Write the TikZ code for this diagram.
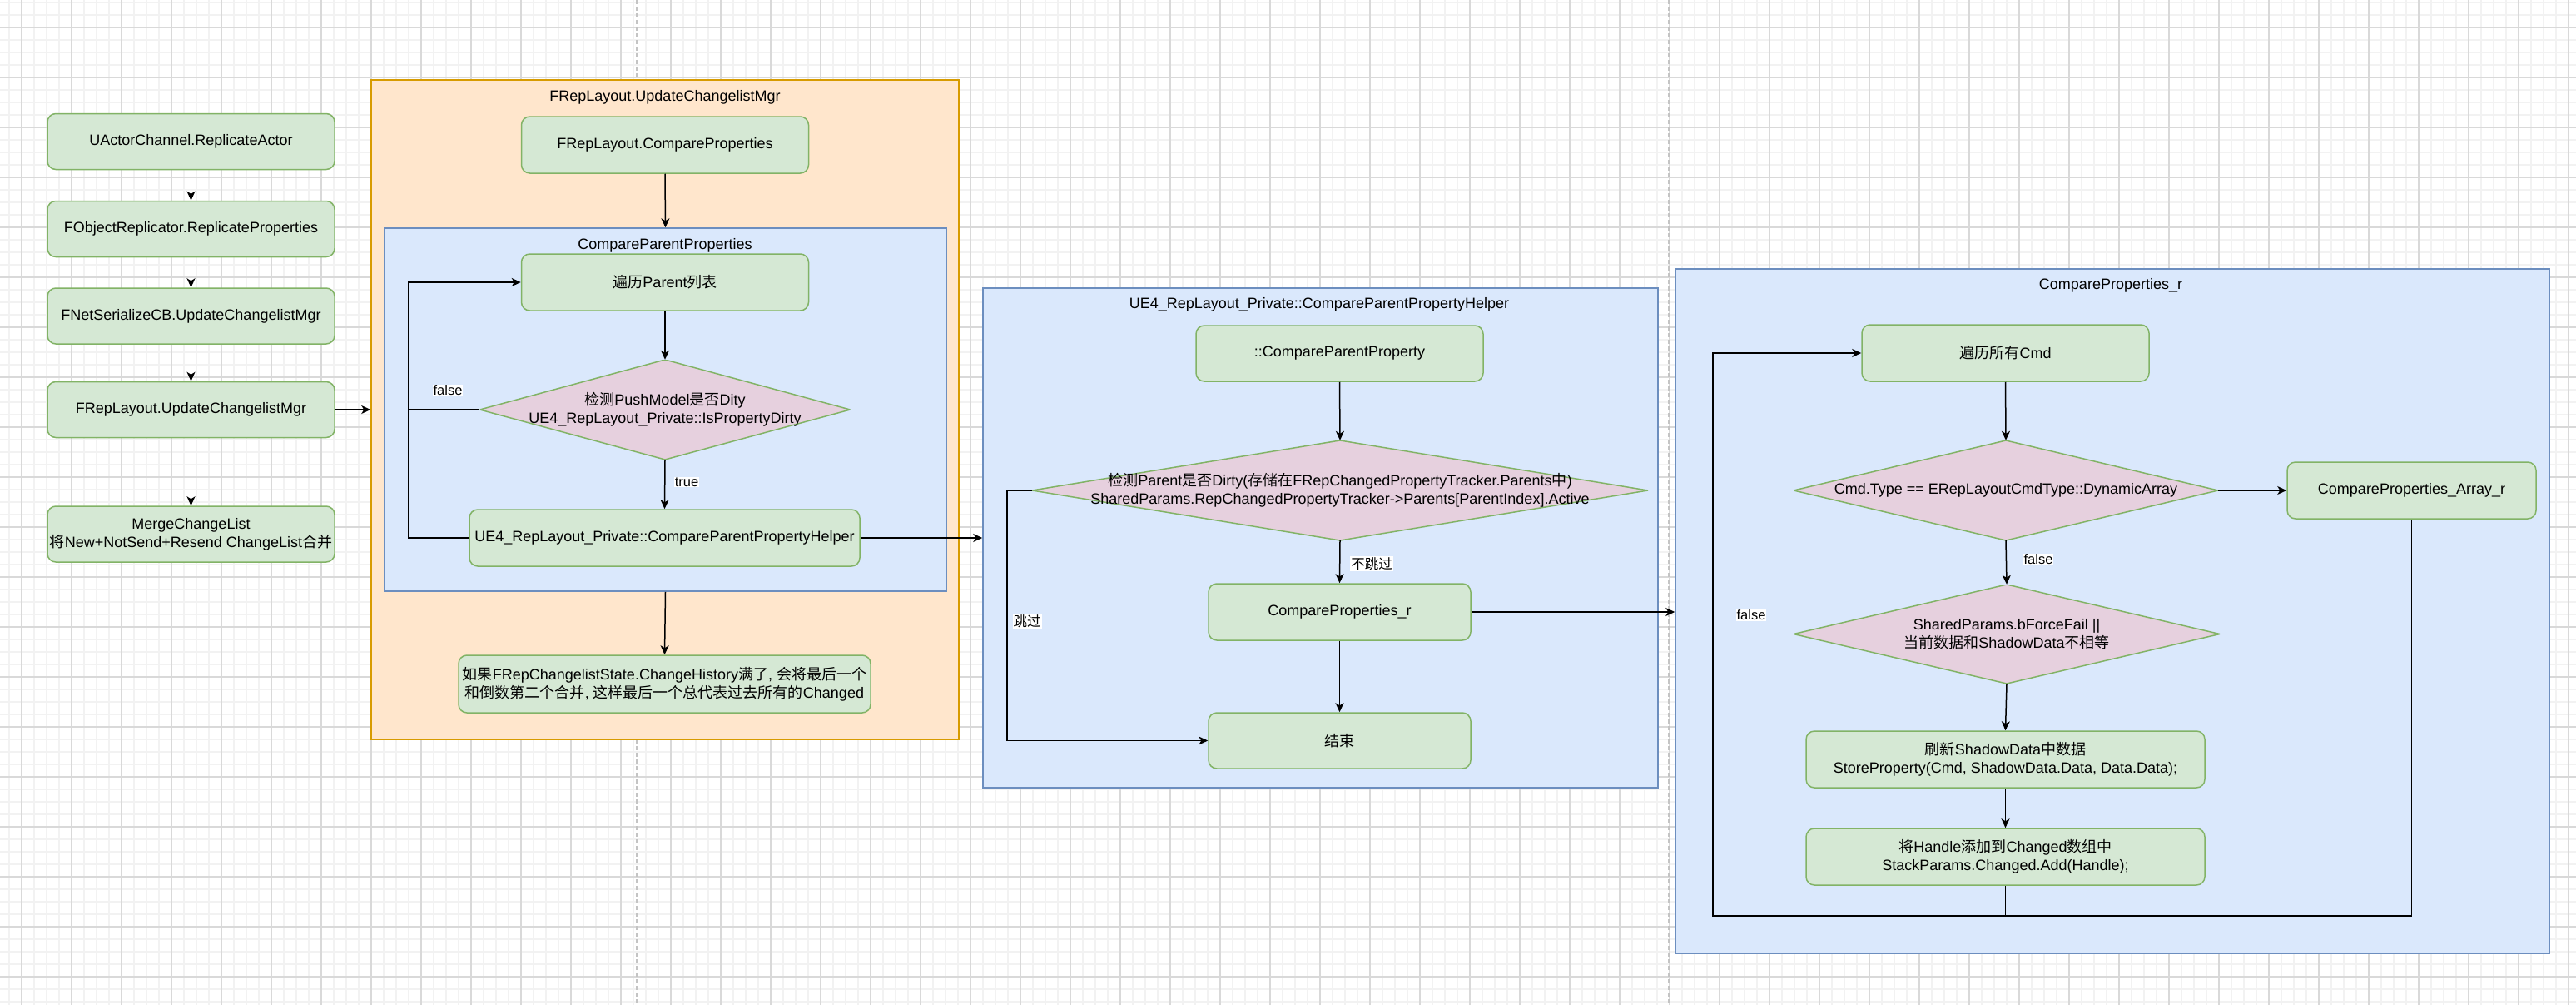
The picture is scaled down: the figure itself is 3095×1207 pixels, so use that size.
\documentclass[tikz,border=0pt]{standalone}
\usepackage{fontspec}
\setmainfont{Liberation Sans}
\newfontfamily\cjk{Noto Sans CJK SC}
\newcommand\zh[1]{{\cjk #1}}
\usetikzlibrary{arrows.meta,calc}
\definecolor{gfill}{HTML}{D5E8D4}
\definecolor{gstroke}{HTML}{82B366}
\definecolor{pfill}{HTML}{E6D0DE}
\definecolor{ofill}{HTML}{FFE6CC}
\definecolor{ostroke}{HTML}{D79B00}
\definecolor{bfill}{HTML}{DAE8FC}
\definecolor{bstroke}{HTML}{6C8EBF}
\definecolor{gridmaj}{HTML}{D9D9D9}
\definecolor{gridmin}{HTML}{F2F2F2}
\definecolor{pgbrk}{HTML}{C4C4C4}
\begin{document}
\begin{tikzpicture}[x=1pt,y=-1pt,
  txt/.style={font=\fontsize{18}{22}\selectfont},
  gbox/.style={txt, rectangle, rounded corners=10pt, draw=gstroke, fill=gfill, line width=1.5pt, align=center, inner sep=0pt},
  dia/.style={txt, rectangle, inner sep=0pt, align=center,
    path picture={\path[draw=gstroke, fill=pfill, line width=1.5pt]
      (path picture bounding box.north) -- (path picture bounding box.east) --
      (path picture bounding box.south) -- (path picture bounding box.west) -- cycle;}},
  ocont/.style={rectangle, draw=ostroke, fill=ofill, line width=1.5pt, inner sep=0pt},
  bcont/.style={rectangle, draw=bstroke, fill=bfill, line width=1.5pt, inner sep=0pt},
  ttl/.style={txt, inner sep=0pt},
  elab/.style={font=\fontsize{16.5}{19}\selectfont, fill=white, inner sep=1pt},
  conn/.style={line width=1.5pt, black},
  arr/.style={conn, -{Stealth[length=11pt,width=10pt,inset=3pt]}},
  mgrid/.style={gridmin, line width=1.3pt},
  Mgrid/.style={gridmaj, line width=1.3pt},
  pbreak/.style={pgbrk, line width=1.3pt, dash pattern=on 5pt off 3pt}
]
\useasboundingbox (0,0) rectangle (3095,1207);
\fill[white] (0,0) rectangle (3095,1207);
% grid
\foreach \k in {0,...,205} \draw[mgrid] ({11+15*\k},0) -- ({11+15*\k},1207);
\foreach \k in {0,...,80} \draw[mgrid] (0,{3+15*\k}) -- (3095,{3+15*\k});
\foreach \k in {0,...,51} \draw[Mgrid] ({26+60*\k},0) -- ({26+60*\k},1207);
\foreach \k in {0,...,19} \draw[Mgrid] (0,{33+60*\k}) -- (3095,{33+60*\k});
\draw[pbreak] (765,0) -- (765,1207);
\draw[pbreak] (2005,0) -- (2005,1207);

% containers
\node[ocont, minimum width=706, minimum height=792] (ucm) at (799,492) {};
\node[ttl] (ucmT) at (799,117) {FRepLayout.UpdateChangelistMgr};
\node[bcont, minimum width=675, minimum height=436] (cpp) at (799.5,492) {};
\node[ttl] (cppT) at (799,295) {CompareParentProperties};
\node[bcont, minimum width=811, minimum height=600] (hlp) at (1586.5,646) {};
\node[ttl] (hlpT) at (1585,366) {UE4\_RepLayout\_Private::CompareParentPropertyHelper};
\node[bcont, minimum width=1050, minimum height=822] (cprC) at (2538,734) {};
\node[ttl] (cprT) at (2536,343) {CompareProperties\_r};

% left column
\node[gbox, minimum width=345, minimum height=67] (ra) at (229.5,170) {UActorChannel.ReplicateActor};
\node[gbox, minimum width=345, minimum height=67] (rp) at (229.5,275) {FObjectReplicator.ReplicateProperties};
\node[gbox, minimum width=345, minimum height=67] (ns) at (229.5,379.5) {FNetSerializeCB.UpdateChangelistMgr};
\node[gbox, minimum width=345, minimum height=67] (ucl) at (229.5,492) {FRepLayout.UpdateChangelistMgr};
\node[gbox, minimum width=345, minimum height=67] (mcl) at (229.5,641.5) {MergeChangeList\\\zh{将}New+NotSend+Resend ChangeList\zh{合并}};

% middle container
\node[gbox, minimum width=345, minimum height=68] (cmpP) at (799,174) {FRepLayout.CompareProperties};
\node[gbox, minimum width=345, minimum height=68] (plist) at (799,339) {\zh{遍历}Parent\zh{列表}};
\node[dia, minimum width=445, minimum height=120] (dPush) at (799,492) {\zh{检测}PushModel\zh{是否}Dity\\UE4\_RepLayout\_Private::IsPropertyDirty};
\node[gbox, minimum width=469, minimum height=68] (helper) at (798.5,646) {UE4\_RepLayout\_Private::CompareParentPropertyHelper};
\node[gbox, minimum width=495, minimum height=69] (note) at (798.5,821.5) {\zh{如果}FRepChangelistState.ChangeHistory\zh{满了}, \zh{会将最后一个}\\\zh{和倒数第二个合并}, \zh{这样最后一个总代表过去所有的}Changed};

% helper container
\node[gbox, minimum width=345, minimum height=67] (cpProp) at (1609.5,424.5) {::CompareParentProperty};
\node[dia, minimum width=740, minimum height=120] (dDirty) at (1610,589) {\zh{检测}Parent\zh{是否}Dirty(\zh{存储在}FRepChangedPropertyTracker.Parents\zh{中})\\SharedParams.RepChangedPropertyTracker->Parents[ParentIndex].Active};
\node[gbox, minimum width=315, minimum height=68] (cprBox) at (1609.5,735) {CompareProperties\_r};
\node[gbox, minimum width=315, minimum height=67] (endB) at (1609.5,889.5) {\zh{结束}};

% CompareProperties_r container
\node[gbox, minimum width=345, minimum height=68] (cmd) at (2409.5,424) {\zh{遍历所有}Cmd};
\node[dia, minimum width=510, minimum height=120] (dArr) at (2410,589) {Cmd.Type == ERepLayoutCmdType::DynamicArray};
\node[gbox, minimum width=299, minimum height=68] (arrB) at (2897.5,589) {CompareProperties\_Array\_r};
\node[dia, minimum width=512, minimum height=119] (dFail) at (2411,761.5) {SharedParams.bForceFail ||\\\zh{当前数据和}ShadowData\zh{不相等}};
\node[gbox, minimum width=479, minimum height=68] (store) at (2409.5,912) {\zh{刷新}ShadowData\zh{中数据}\\StoreProperty(Cmd, ShadowData.Data, Data.Data);};
\node[gbox, minimum width=479, minimum height=68] (addH) at (2409.5,1029) {\zh{将}Handle\zh{添加到}Changed\zh{数组中}\\StackParams.Changed.Add(Handle);};

% left column edges
\draw[arr] (ra.south) -- (rp.north);
\draw[arr] (rp.south) -- (ns.north);
\draw[arr] (ns.south) -- (ucl.north);
\draw[arr] (ucl.south) -- (mcl.north);
\draw[arr] (ucl.east) -- (ucl.east -| ucm.west);

% middle edges
\draw[arr] (cmpP.south) -- (cpp.north);
\draw[arr] (plist.south) -- (dPush.north);
\draw[arr] (dPush.south) -- (helper.north) node[elab] at (825,579) {true};
\coordinate (lpA) at (491,339);
\draw[arr] (helper.west) -| (lpA) -- (plist.west);
\draw[conn] (dPush.west) -- (dPush.west -| lpA) node[elab] at (538,469) {false};
\draw[arr] (cpp.south) -- (note.north);
\draw[arr] (helper.east) -- (helper.east -| hlp.west);

% helper edges
\draw[arr] (cpProp.south) -- (dDirty.north);
\draw[arr] (dDirty.south) -- (cprBox.north) node[elab] at (1648,677) {\zh{不跳过}};
\draw[arr] (cprBox.south) -- (endB.north);
\coordinate (lpB) at (1210,589);
\draw[arr] (dDirty.west) -- (lpB) |- (endB.west) node[elab] at (1234,746) {\zh{跳过}};
\draw[arr] (cprBox.east) -- (cprBox.east -| cprC.west);

% CompareProperties_r edges
\draw[arr] (cmd.south) -- (dArr.north);
\draw[arr] (dArr.east) -- (arrB.west);
\draw[arr] (dArr.south) -- (dFail.north) node[elab] at (2449,672) {false};
\draw[arr] (dFail.south) -- (store.north);
\draw[arr] (store.south) -- (addH.north);
\coordinate (lpC) at (2058,1100);
\draw[arr] (addH.south) |- (lpC) |- (cmd.west);
\draw[conn] (arrB.south) |- (addH.south |- lpC);
\draw[conn] (dFail.west) -- (dFail.west -| lpC) node[elab] at (2104,739) {false};
\end{tikzpicture}
\end{document}
